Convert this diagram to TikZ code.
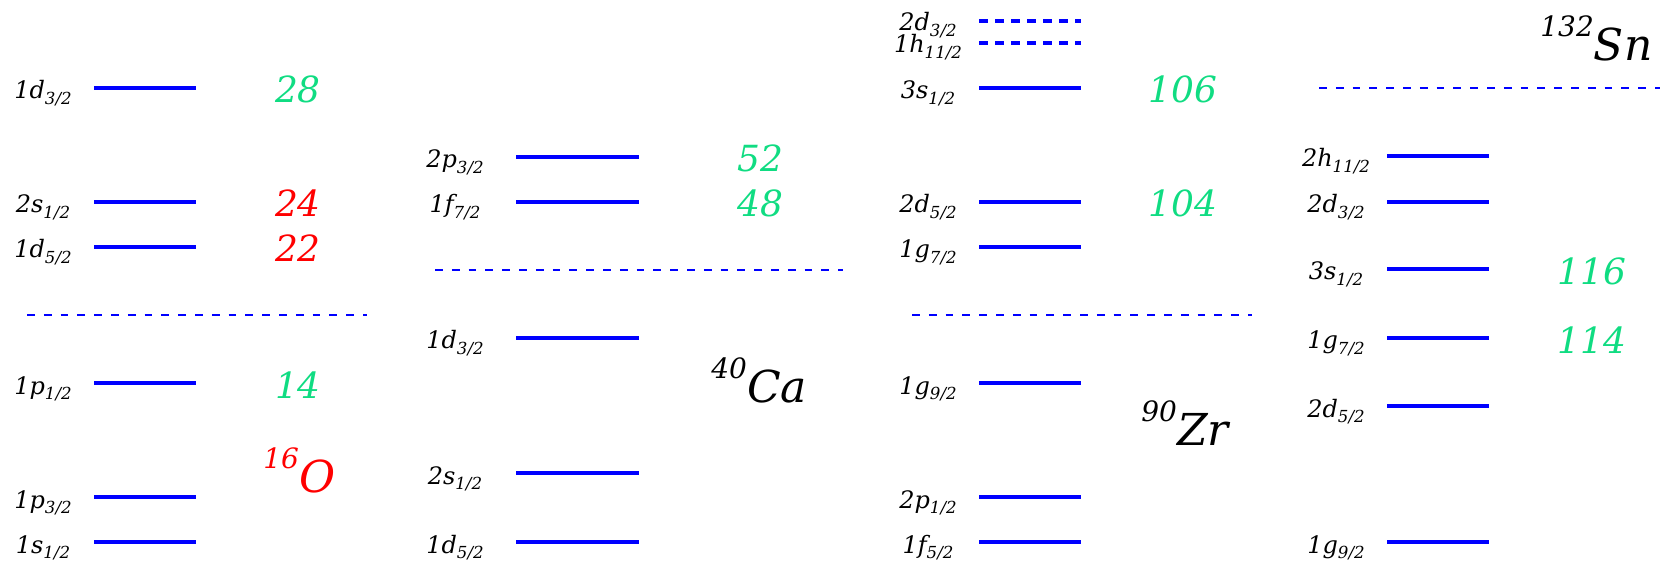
\documentclass[tikz,border=0pt]{standalone}
\usepackage{fontspec}
\setmainfont{DejaVu Serif}
\usepackage{tikz}
\usetikzlibrary{positioning}
\definecolor{magicgreen}{RGB}{16,220,130}
\newcommand{\sj}[1]{\raisebox{-2.6pt}{\fontsize{8.3}{8.3}\selectfont #1}}
\newcommand{\nucl}[2]{{\fontsize{14}{14}\selectfont\raisebox{12pt}{#1}}#2}
\tikzset{
  lvl/.style={draw=blue, line width=1.9pt},
  lvldash/.style={lvl, dash pattern=on 4.7pt off 3.3pt},
  shellgap/.style={draw=blue, line width=1.1pt, dash pattern=on 3.9pt off 4.5pt},
  orb/.style={anchor=base, inner sep=0pt, font=\fontsize{12}{12}\selectfont\itshape},
  magic/.style={anchor=base, inner sep=0pt, text=magicgreen, font=\fontsize{18}{18}\selectfont\itshape},
  magicred/.style={magic, text=red},
  nuc/.style={anchor=base west, inner sep=0pt, font=\fontsize{22}{22}\selectfont\itshape}
}
\begin{document}
\begin{tikzpicture}[x=0.5pt,y=-0.5pt]
  \useasboundingbox (0,0) rectangle (1663,571);

  % 16O
  \draw[lvl] (94,88) -- (196,88);
  \draw[lvl] (94,202) -- (196,202);
  \draw[lvl] (94,247) -- (196,247);
  \draw[shellgap] (27,315) -- (367,315);
  \draw[lvl] (94,383) -- (196,383);
  \draw[lvl] (94,497) -- (196,497);
  \draw[lvl] (94,542) -- (196,542);
  \node[orb] (o1d3) at (43,99) {1d\sj{3/2}};
  \node[orb] (o2s1) at (43,213) {2s\sj{1/2}};
  \node[orb] (o1d5) at (43,258) {1d\sj{5/2}};
  \node[orb] (o1p1) at (43,394) {1p\sj{1/2}};
  \node[orb] (o1p3) at (43,508) {1p\sj{3/2}};
  \node[orb] (o1s1) at (43,553) {1s\sj{1/2}};
  \node[magic] (m28) at (298,103) {28};
  \node[magicred] (m24) at (298,217) {24};
  \node[magicred] (m22) at (298,262) {22};
  \node[magic] (m14) at (298,398) {14};
  \node[nuc, text=red] (oxy) at (263,492) {\nucl{16}{O}};

  % 40Ca
  \draw[lvl] (516,157) -- (639,157);
  \draw[lvl] (516,202) -- (639,202);
  \draw[shellgap] (435,270) -- (843,270);
  \draw[lvl] (516,338) -- (639,338);
  \draw[lvl] (516,473) -- (639,473);
  \draw[lvl] (516,542) -- (639,542);
  \node[orb] (c2p3) at (455,168) {2p\sj{3/2}};
  \node[orb] (c1f7) at (455,213) {1f\sj{7/2}};
  \node[orb] (c1d3) at (455,349) {1d\sj{3/2}};
  \node[orb] (c2s1) at (455,484) {2s\sj{1/2}};
  \node[orb] (c1d5) at (455,553) {1d\sj{5/2}};
  \node[magic] (m52) at (760,172) {52};
  \node[magic] (m48) at (760,217) {48};
  \node[nuc] (calc) at (711,402) {\nucl{40}{Ca}};

  % 90Zr
  \draw[lvldash] (979,21) -- (1081,21);
  \draw[lvldash] (979,43) -- (1081,43);
  \draw[lvl] (979,88) -- (1081,88);
  \draw[lvl] (979,202) -- (1081,202);
  \draw[lvl] (979,247) -- (1081,247);
  \draw[shellgap] (912,315) -- (1252,315);
  \draw[lvl] (979,383) -- (1081,383);
  \draw[lvl] (979,497) -- (1081,497);
  \draw[lvl] (979,542) -- (1081,542);
  \node[orb] (z2d3) at (928,31) {2d\sj{3/2}};
  \node[orb] (z1h11) at (928,53) {1h\sj{11/2}};
  \node[orb] (z3s1) at (928,99) {3s\sj{1/2}};
  \node[orb] (z2d5) at (928,213) {2d\sj{5/2}};
  \node[orb] (z1g7) at (928,258) {1g\sj{7/2}};
  \node[orb] (z1g9) at (928,394) {1g\sj{9/2}};
  \node[orb] (z2p1) at (928,508) {2p\sj{1/2}};
  \node[orb] (z1f5) at (928,553) {1f\sj{5/2}};
  \node[magic] (m106) at (1183,103) {106};
  \node[magic] (m104) at (1183,217) {104};
  \node[nuc] (zirc) at (1141,445) {\nucl{90}{Zr}};

  % 132Sn
  \draw[shellgap] (1319,88) -- (1660,88);
  \draw[lvl] (1387,156) -- (1489,156);
  \draw[lvl] (1387,202) -- (1489,202);
  \draw[lvl] (1387,269) -- (1489,269);
  \draw[lvl] (1387,338) -- (1489,338);
  \draw[lvl] (1387,406) -- (1489,406);
  \draw[lvl] (1387,542) -- (1489,542);
  \node[orb] (s2h11) at (1336,167) {2h\sj{11/2}};
  \node[orb] (s2d3) at (1336,213) {2d\sj{3/2}};
  \node[orb] (s3s1) at (1336,280) {3s\sj{1/2}};
  \node[orb] (s1g7) at (1336,349) {1g\sj{7/2}};
  \node[orb] (s2d5) at (1336,417) {2d\sj{5/2}};
  \node[orb] (s1g9) at (1336,553) {1g\sj{9/2}};
  \node[magic] (m116) at (1592,285) {116};
  \node[magic] (m114) at (1592,353) {114};
  \node[nuc] (tin) at (1540,61) {\nucl{132}{Sn}};
\end{tikzpicture}
\end{document}
